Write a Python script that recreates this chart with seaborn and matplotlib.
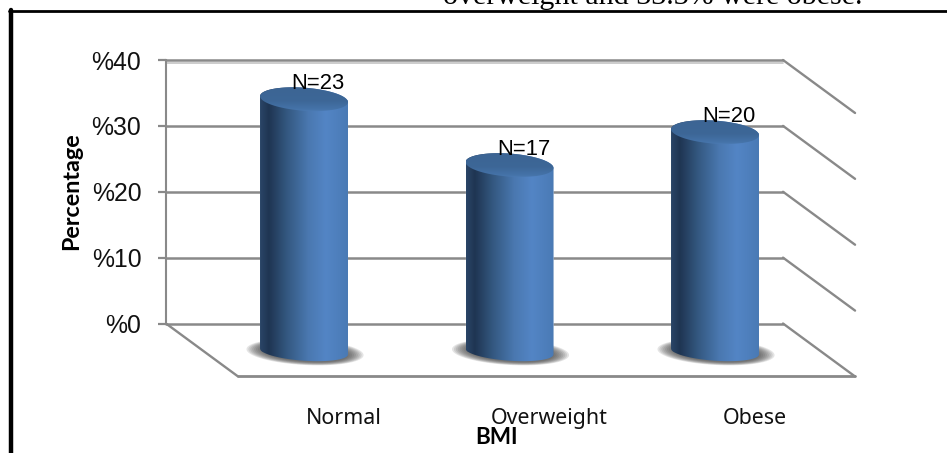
import numpy as np
import seaborn as sns
import matplotlib.pyplot as plt
from matplotlib.colors import LinearSegmentedColormap
from matplotlib.lines import Line2D
from matplotlib.path import Path

categories = ['Normal', 'Overweight', 'Obese']
percentages = [38.3, 28.3, 33.3]
counts = ['N=23', 'N=17', 'N=20']
wall_ticks = [0, 10, 20, 30, 40]
wall_labels = ['%0', '%10', '%20', '%30', '%40']
top_text = 'overweight and 33.3% were obese.'

W, H = 947, 453
GRID = '#898989'
CAP_B = 1.75    # half height of the cylinder top, in % units
BASE_B = 1.4    # same for the bottom end
CAP_SHEAR = 0.45
DEPTH_X = 72 / 205.5    # chart depth in category units
DEPTH_Y = 53 / 6.59     # chart depth in % units

side_cmap = LinearSegmentedColormap.from_list('side', [
    (0.0, '#2a4567'), (0.1, '#1f3552'), (0.3, '#33577f'), (0.55, '#4a78b0'),
    (0.75, '#5385c5'), (1.0, '#4a7ab5')])
cap_cmap = LinearSegmentedColormap.from_list('cap', [
    (0.0, '#3c6493'), (0.55, '#3d6797'), (0.85, '#4674aa'), (1.0, '#5488c8')])


def box(left, top, right, bottom):
    return [left / W, 1 - bottom / H, (right - left) / W, (bottom - top) / H]


def ellipse_xy(cx, cy, a, b, shear, t):
    x = cx + a * np.cos(t)
    y = cy + b * np.sin(t) - shear * np.cos(t)
    return x, y


def draw_cylinder(ax, bar):
    a = bar.get_width() / 2
    cx = bar.get_x() + a
    top = bar.get_height()

    # soft shadow on the floor
    t = np.linspace(0, 2 * np.pi, 80)
    for scale in np.linspace(1, 0.74, 9):
        sx, sy = ellipse_xy(cx + 0.005, -0.1, 0.285 * scale, 1.95 * scale, CAP_SHEAR, t)
        ax.fill(sx, sy, color='#444444', alpha=0.14, lw=0, zorder=1, clip_on=False)

    # outline of the whole cylinder, used to clip the gradient
    t_up = np.linspace(np.pi, 0, 40)
    t_low = np.linspace(0, -np.pi, 40)
    ux, uy = ellipse_xy(cx, top, a, CAP_B, CAP_SHEAR, t_up)
    lx, ly = ellipse_xy(cx, 0, a, BASE_B, CAP_SHEAR, t_low)
    outline = Path(np.column_stack([np.r_[ux, lx, ux[0]], np.r_[uy, ly, uy[0]]]), closed=True)

    bar.set_clip_path(outline, transform=ax.transData)
    bar.set_clip_box(ax.figure.bbox)

    grad = np.linspace(0, 1, 256).reshape(1, -1)
    im = ax.imshow(grad, extent=[cx - a, cx + a, -BASE_B - 1, top + CAP_B + 1], aspect='auto',
                   cmap=side_cmap, zorder=3)
    im.set_clip_path(outline, transform=ax.transData)
    im.set_clip_box(ax.figure.bbox)

    # top of the cylinder
    t_cap = np.linspace(0, 2 * np.pi, 80)
    cx_pts, cy_pts = ellipse_xy(cx, top, a, CAP_B, CAP_SHEAR, t_cap)
    cap = Path(np.column_stack([cx_pts, cy_pts]), closed=True)
    im2 = ax.imshow(np.linspace(0, 1, 128).reshape(-1, 1),
                    extent=[cx - a, cx + a, top - CAP_B - CAP_SHEAR, top + CAP_B + CAP_SHEAR],
                    origin='upper', aspect='auto', cmap=cap_cmap, zorder=4)
    im2.set_clip_path(cap, transform=ax.transData)
    im2.set_clip_box(ax.figure.bbox)


sns.set_theme(style='white')
plt.rcParams['font.family'] = ['Liberation Sans', 'DejaVu Sans']

fig = plt.figure(figsize=(W / 100, H / 100), dpi=100, facecolor='white')

# back wall with the value axis
wall = fig.add_axes(box(166, 60, 783, 323.5), zorder=1)
wall.set_xlim(-0.5, 2.5)
wall.set_ylim(0, 40)
wall.set_xticks([])
wall.set_yticks(wall_ticks, labels=wall_labels, fontsize=17.8, color='#111111')
wall.tick_params(axis='y', left=True, length=5.8, width=1.6, color=GRID, pad=12)
wall.yaxis.grid(True, color=GRID, lw=1.8)
for g in wall.get_ygridlines():
    g.set_clip_on(False)
sns.despine(ax=wall, top=True, right=True, bottom=True)
wall.spines['left'].set_color(GRID)
wall.spines['left'].set_linewidth(1.5)

# lighter edge under the top gridline and the depth lines of wall and floor
wall.plot([-0.5, 2.5], [39.6, 39.6], color='#c4c4c4', lw=1.2, clip_on=False)
for v in wall_ticks:
    wall.plot([2.5, 2.5 + DEPTH_X], [v, v - DEPTH_Y], color=GRID, lw=1.7, clip_on=False)
wall.plot([-0.5, -0.5 + DEPTH_X], [0, -DEPTH_Y], color=GRID, lw=1.7, clip_on=False)
wall.plot([-0.5 + DEPTH_X, 2.5 + DEPTH_X], [-DEPTH_Y, -DEPTH_Y], color=GRID, lw=2.0, clip_on=False)

# bars sit half way down the floor
bars_ax = fig.add_axes(box(201.25, 88, 817.75, 351.5), zorder=2)
sns.barplot(x=categories, y=percentages, color='#3f6a9f', width=0.428, saturation=1,
            ax=bars_ax)
bars_ax.set_xlim(-0.5, 2.5)
bars_ax.set_ylim(0, 40)
bars_ax.set_axis_off()

for bar, count, cat in zip(bars_ax.patches, counts, categories):
    draw_cylinder(bars_ax, bar)
    cx = bar.get_x() + bar.get_width() / 2
    bars_ax.annotate(count, xy=(cx, bar.get_height()), xytext=(10, 11.5),
                     textcoords='offset points', ha='center', va='center',
                     fontsize=15.8, color='black', zorder=6, annotation_clip=False)
    bars_ax.annotate(cat, xy=(cx, 0), xytext=(28.5, -48), textcoords='offset points',
                     ha='center', va='center', fontsize=15.4, color='#111111',
                     family='Noto Sans', annotation_clip=False)
bars_ax.set_xlim(-0.5, 2.5)
bars_ax.set_ylim(0, 40)

fig.text(71.5 / W, 1 - 191.5 / H, 'Percentage', rotation=90, ha='center', va='center',
         fontsize=16.8, fontweight='bold', family='Lato', color='black')
fig.text(496.5 / W, 1 - 437 / H, 'BMI', ha='center', va='center',
         fontsize=16.2, fontweight='bold', family='Lato', color='black')

# box around the chart and the text of the page above it
fig.add_artist(Line2D([10.5 / W, 10.5 / W], [0, 1 - 10 / H], color='black', lw=3.2))
fig.add_artist(Line2D([9 / W, 1], [1 - 11 / H, 1 - 11 / H], color='black', lw=2.0))
fig.text(653 / W, 1 - 3.5 / H, top_text, ha='center', va='baseline', fontsize=21.6,
         family='Liberation Serif', color='black')

fig.savefig('out.png', dpi=100)
